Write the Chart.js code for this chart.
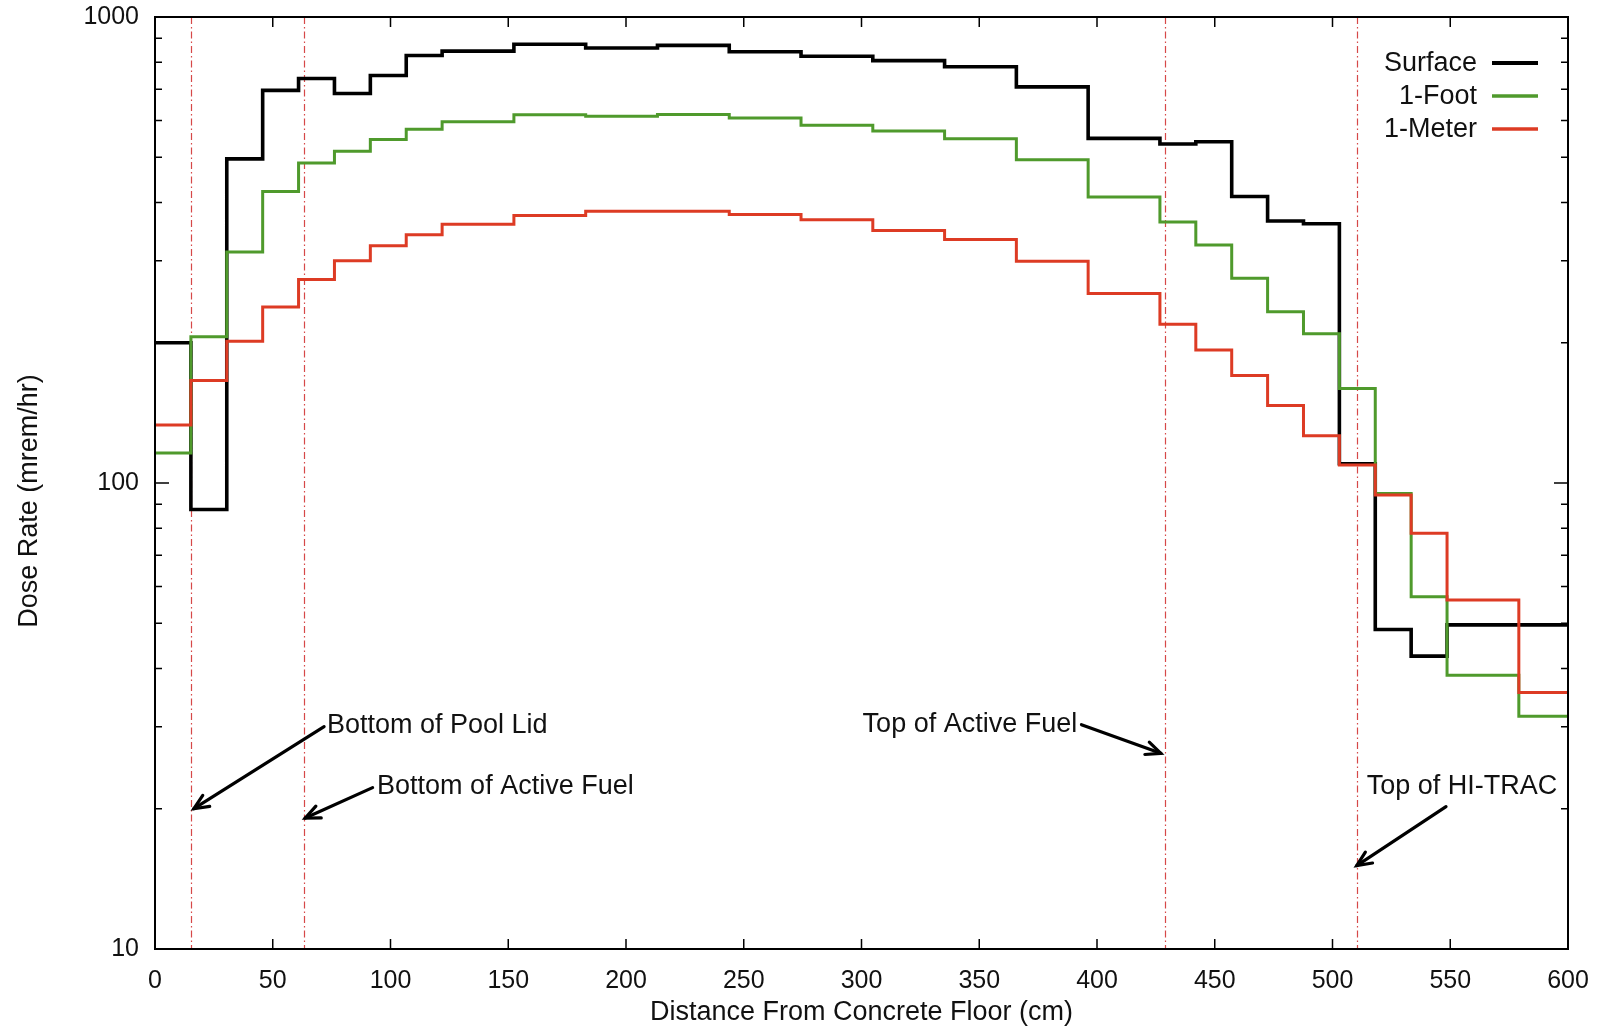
<!DOCTYPE html>
<html>
<head>
<meta charset="utf-8">
<title>Dose Rate vs Distance</title>
<script src="https://cdn.jsdelivr.net/npm/chart.js@4.4.1/dist/chart.umd.min.js"></script>
<style>
  html, body { margin: 0; padding: 0; background: #fff; }
  #doseChart { display: block; }
</style>
</head>
<body>
<canvas id="doseChart" width="1600" height="1030"></canvas>
<script>
//=========================================
// Data (6-inch bins, last point closes the step at 600 cm)
//=========================================
const binEdges = [0, 15.24, 30.48, 45.72, 60.96, 76.2, 91.44, 106.68, 121.92, 137.16,
  152.4, 167.64, 182.88, 198.12, 213.36, 228.6, 243.84, 259.08, 274.32, 289.56,
  304.8, 320.04, 335.28, 350.52, 365.76, 381, 396.24, 411.48, 426.72, 441.96,
  457.2, 472.44, 487.68, 502.92, 518.16, 533.4, 548.64, 563.88, 579.12, 594.36, 600];

const surface = [200, 87.7, 496, 696, 738, 685, 749, 827, 845, 845,
  874, 874, 858, 858, 869, 869, 842, 842, 824, 824,
  806, 806, 782, 782, 708, 708, 549, 549, 534, 540,
  412, 365, 360, 110, 48.5, 42.5, 49.6, 49.6, 49.6, 49.6, 49.6];

const oneFoot = [116, 206, 313, 422, 486, 515, 546, 574, 596, 596,
  617, 617, 612, 612, 618, 618, 607, 607, 586, 586,
  569, 569, 548, 548, 494, 494, 411, 411, 363, 324,
  275, 233, 209, 159.5, 95, 57, 38.7, 38.7, 31.6, 31.6, 31.6];

const oneMeter = [133.2, 166, 201.5, 238.5, 273.3, 300, 323, 341, 359, 359,
  375, 375, 383, 383, 383, 383, 377, 377, 367, 367,
  348, 348, 333, 333, 299, 299, 255, 255, 219, 193,
  170, 146.7, 126.3, 109.3, 94.2, 78, 56.1, 56.1, 35.5, 35.5, 35.5];

const seriesNames = ["Surface", "1-Foot", "1-Meter"];
const seriesColors = ["#000000", "#4f9a2c", "#dd3b24"];

const yTickValues = [10, 20, 30, 40, 50, 60, 70, 80, 90,
  100, 200, 300, 400, 500, 600, 700, 800, 900, 1000];
const yTickLabels = ["10", "100", "1000"];
const yTitle = "Dose Rate (mrem/hr)";

// reference lines (cm)
const markerX = [15.24, 63.3, 429, 510.5];

// annotation labels with arrows (data units)
const notes = [
  { text: "Bottom of Pool Lid",    tx: 73.0,  ty: 30.2, align: "left",  from: [71.8, 30.0],  to: [16.5, 20.0] },
  { text: "Bottom of Active Fuel", tx: 94.3,  ty: 22.3, align: "left",  from: [92.4, 22.2],  to: [63.8, 19.1] },
  { text: "Top of Active Fuel",    tx: 391.6, ty: 30.3, align: "right", from: [393.4, 30.3], to: [427.1, 26.3] },
  { text: "Top of HI-TRAC",        tx: 514.5, ty: 22.3, align: "left",  from: [548.2, 20.2], to: [510.3, 15.1] }
];

const FONT = "'Liberation Sans', Arial, Helvetica, sans-serif";

function toPoints(values){
  return binEdges.map((e, i) => ({ x: e, y: values[i] }));
}

//------------------------------------
// Plugins
//------------------------------------
const markerLines = {
  id: "markerLines",
  beforeDatasetsDraw(chart){
    const { ctx, chartArea: a, scales: { x } } = chart;
    ctx.save();
    ctx.strokeStyle = "rgb(214,72,72)";
    ctx.lineWidth = 1.2;
    ctx.setLineDash([7, 3, 1.5, 3]);
    markerX.forEach(v => {
      const px = Math.round(x.getPixelForValue(v)) + 0.5;
      ctx.beginPath();
      ctx.moveTo(px, a.top);
      ctx.lineTo(px, a.bottom);
      ctx.stroke();
    });
    ctx.restore();
  }
};

function drawArrow(ctx, x1, y1, x2, y2){
  ctx.beginPath();
  ctx.moveTo(x1, y1);
  ctx.lineTo(x2, y2);
  ctx.stroke();
  const ang = Math.atan2(y2 - y1, x2 - x1);
  const h = 16, s = 0.42;
  ctx.beginPath();
  ctx.moveTo(x2 - h * Math.cos(ang - s), y2 - h * Math.sin(ang - s));
  ctx.lineTo(x2, y2);
  ctx.lineTo(x2 - h * Math.cos(ang + s), y2 - h * Math.sin(ang + s));
  ctx.stroke();
}

const frameAndNotes = {
  id: "frameAndNotes",
  afterDraw(chart){
    const { ctx, chartArea: a, scales: { x, y } } = chart;
    ctx.save();

    // frame
    ctx.strokeStyle = "#000";
    ctx.lineWidth = 2;
    ctx.strokeRect(a.left, a.top, a.right - a.left, a.bottom - a.top);

    // inward ticks
    ctx.lineWidth = 1.5;
    ctx.beginPath();
    x.ticks.forEach(t => {
      const px = x.getPixelForValue(t.value);
      ctx.moveTo(px, a.bottom); ctx.lineTo(px, a.bottom - 10);
      ctx.moveTo(px, a.top);    ctx.lineTo(px, a.top + 10);
    });
    y.ticks.forEach(t => {
      const py = y.getPixelForValue(t.value);
      const major = yTickLabels.includes(String(t.value));
      const len = major ? 14 : 7;
      ctx.moveTo(a.left, py);  ctx.lineTo(a.left + len, py);
      ctx.moveTo(a.right, py); ctx.lineTo(a.right - len, py);
    });
    ctx.stroke();

    // y axis title (sits a bit below the plot centre in the original)
    ctx.fillStyle = "#111";
    ctx.font = "27px " + FONT;
    ctx.textAlign = "center";
    ctx.textBaseline = "middle";
    ctx.save();
    ctx.translate(30, (a.top + a.bottom) / 2 + 18);
    ctx.rotate(-Math.PI / 2);
    ctx.fillText(yTitle, 0, 0);
    ctx.restore();

    // annotations
    ctx.lineWidth = 3.2;
    ctx.lineCap = "round";
    ctx.lineJoin = "miter";
    notes.forEach(n => {
      ctx.textAlign = n.align;
      ctx.fillText(n.text, x.getPixelForValue(n.tx), y.getPixelForValue(n.ty));
      drawArrow(ctx,
        x.getPixelForValue(n.from[0]), y.getPixelForValue(n.from[1]),
        x.getPixelForValue(n.to[0]), y.getPixelForValue(n.to[1]));
    });

    // legend, gnuplot style: text right-aligned, sample on the right
    ctx.lineCap = "butt";
    ctx.textAlign = "right";
    chart.data.datasets.forEach((ds, i) => {
      const ly = a.top + 46 + i * 33;
      ctx.fillStyle = "#111";
      ctx.fillText(ds.label, 1477, ly + 1);
      ctx.strokeStyle = ds.borderColor;
      ctx.lineWidth = i === 0 ? 4 : 3.5;
      ctx.beginPath();
      ctx.moveTo(1492, ly);
      ctx.lineTo(1538, ly);
      ctx.stroke();
    });

    ctx.restore();
  }
};

//------------------------------------
// Chart
//------------------------------------
const doseChart = new Chart(document.getElementById("doseChart"), {
  type: "line",
  data: {
    datasets: [
      { label: seriesNames[0], data: toPoints(surface),  borderColor: seriesColors[0], borderWidth: 3.6, order: 3 },
      { label: seriesNames[1], data: toPoints(oneFoot),  borderColor: seriesColors[1], borderWidth: 3,   order: 2 },
      { label: seriesNames[2], data: toPoints(oneMeter), borderColor: seriesColors[2], borderWidth: 3,   order: 1 }
    ].map(ds => Object.assign(ds, { stepped: true, pointRadius: 0, fill: false, tension: 0 }))
  },
  options: {
    responsive: false,
    animation: false,
    devicePixelRatio: 1,
    layout: { padding: { left: 0, right: 32, top: 17, bottom: 0 } },
    plugins: {
      legend: { display: false },
      tooltip: { enabled: false }
    },
    scales: {
      x: {
        type: "linear",
        min: 0,
        max: 600,
        grid: { display: false, drawTicks: false },
        border: { display: false },
        ticks: {
          stepSize: 50,
          padding: 17,
          color: "#111",
          font: { family: FONT, size: 25 },
          maxRotation: 0
        },
        title: {
          display: true,
          text: "Distance From Concrete Floor (cm)",
          color: "#111",
          font: { family: FONT, size: 27 },
          padding: { top: 0, bottom: 1 }
        },
        afterFit(scale){
          scale.height = 81;
          scale.paddingLeft = 0;
          scale.paddingRight = 0;
        }
      },
      y: {
        type: "logarithmic",
        min: 10,
        max: 1000,
        grid: { display: false, drawTicks: false },
        border: { display: false },
        afterBuildTicks(scale){
          scale.ticks = yTickValues.map(v => ({ value: v }));
        },
        ticks: {
          autoSkip: false,
          padding: 16,
          color: "#111",
          font: { family: FONT, size: 25 },
          callback(value){
            const s = String(value);
            return yTickLabels.includes(s) ? s : "";
          }
        },
        afterFit(scale){
          scale.width = 155;
          scale.paddingTop = 0;
          scale.paddingBottom = 0;
        }
      }
    }
  },
  plugins: [markerLines, frameAndNotes]
});
</script>
</body>
</html>
